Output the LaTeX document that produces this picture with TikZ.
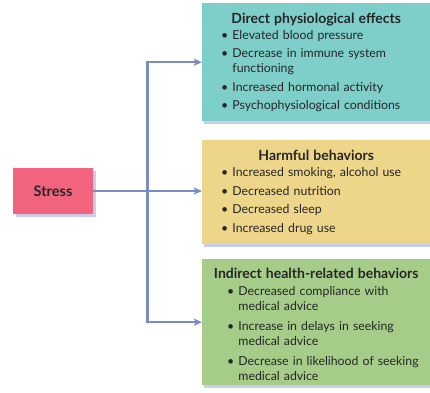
\documentclass[tikz,border=0pt]{standalone}
\usepackage{fontspec}
\setmainfont{Lato}
\usetikzlibrary{arrows.meta, shadows}
\definecolor{physioc}{RGB}{126,207,201}
\definecolor{harmc}{RGB}{237,214,138}
\definecolor{indirc}{RGB}{166,204,138}
\definecolor{stressc}{RGB}{242,100,126}
\definecolor{flowc}{RGB}{122,140,198}
\definecolor{shadowc}{RGB}{200,205,232}
\definecolor{textc}{RGB}{38,38,38}
\newlength{\itemshift}
\newlength{\itemgap}
\setlength{\itemgap}{3.5pt}
\newcommand{\boxtitle}[1]{\makebox[\linewidth][c]{\fontsize{14}{16}\selectfont\bfseries #1}\par}
\newcommand{\bitem}[1]{\par\vspace{\itemgap}\leftskip=\itemshift\rightskip=-16pt plus 1fil
	\setbox0=\hbox{\textbullet\ }%
	\noindent\hangindent=\wd0\hangafter=1\textbullet\ #1\par}

\begin{document}
\begin{tikzpicture}[x=1pt, y=-1pt,
		effect/.style={rectangle, anchor=north west, minimum width=228pt, inner xsep=0pt,
			text=textc, align=left, font=\fontsize{12.3}{15}\selectfont,
			drop shadow={shadow xshift=2pt, shadow yshift=-3pt, fill=shadowc, opacity=1}},
		flow/.style={-{Stealth[length=8pt, width=7pt, inset=1.5pt]}, line width=2.5pt, color=flowc}]
		\useasboundingbox (0,0) rectangle (430,392);
		
		\node[effect, fill=physioc, minimum height=118pt, text width=190pt] (physio) at (202,3) {%
			\setlength{\itemshift}{0pt}%
			\boxtitle{Direct physiological effects}\vspace{-2.5pt}
			\bitem{Elevated blood pressure}
			\bitem{Decrease in immune system\newline functioning}
			\bitem{Increased hormonal activity}
			\bitem{Psychophysiological conditions}};
		\node[effect, fill=harmc, minimum height=104pt, text width=190pt] (harm) at (202,140) {%
			\setlength{\itemshift}{0pt}%
			\boxtitle{Harmful behaviors}\vspace{-2.5pt}
			\bitem{Increased smoking, alcohol use}
			\bitem{Decreased nutrition}
			\bitem{Decreased sleep}
			\bitem{Increased drug use}};
		\node[effect, fill=indirc, minimum height=126pt, text width=204pt] (indirect) at (202,259) {%
			\setlength{\itemshift}{13pt}\setlength{\itemgap}{5pt}%
			\boxtitle{Indirect health-related behaviors}\vspace{-3pt}
			\bitem{Decreased compliance with\newline medical advice}
			\bitem{Increase in delays in seeking\newline medical advice}
			\bitem{Decrease in likelihood of seeking\newline medical advice}\vspace{-4pt}};
		
		\node[rectangle, fill=stressc, minimum width=80pt, minimum height=46pt, text=textc,
			font=\fontsize{14.5}{16}\selectfont\bfseries,
			drop shadow={shadow xshift=3pt, shadow yshift=-3pt, fill=shadowc, opacity=1}] (stress) at (53,191) {Stress};
		
		\coordinate (trunk) at (147.5,191);
		\draw[flow] (stress.east) -- (stress.east -| harm.west);
		\draw[flow] (trunk) |- (physio.west);
		\draw[flow] (trunk) |- (indirect.west);
		
		\end{tikzpicture}
\end{document}
